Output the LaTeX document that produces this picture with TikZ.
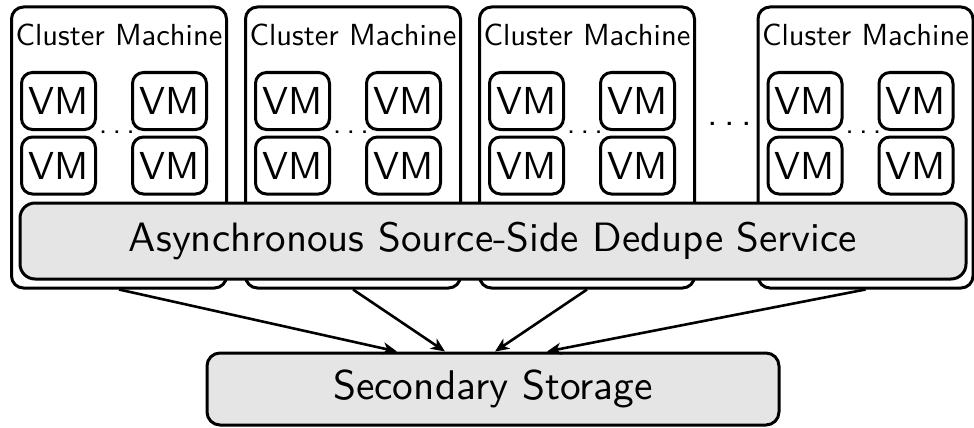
\documentclass[tikz,border=0pt]{standalone}
\usepackage{fontspec}
\usetikzlibrary{arrows.meta,calc}
% Latin Modern Sans at its 10pt design size, scaled up
\newfontfamily\lmsansten{lmsans10-regular}[Extension=.otf]
% three spaced dots
\newcommand{\spaceddots}{.\kern.166em.\kern.166em.}
\begin{document}
\begin{tikzpicture}[x=1pt,y=-1pt,line width=3pt,
  machine/.style={draw,rounded corners=12pt,fill=white,minimum width=215pt,minimum height=281pt,inner sep=0pt},
  machinelabel/.style={anchor=base,inner sep=0pt,font=\fontsize{30.5}{31}\selectfont\lmsansten},
  vm/.style={draw,rounded corners=11pt,fill=white,minimum width=74pt,minimum height=57pt,inner sep=0pt,font=\fontsize{39}{40}\selectfont\lmsansten},
  vmdots/.style={anchor=base,inner sep=0pt,font=\fontsize{31}{32}\selectfont\lmsansten},
  service/.style={draw,rounded corners=15pt,fill=black!10,minimum width=946pt,minimum height=76pt,inner sep=0pt,font=\fontsize{41}{42}\selectfont\lmsansten},
  storage/.style={draw,rounded corners=13pt,fill=black!10,minimum width=572pt,minimum height=72pt,inner sep=0pt,font=\fontsize{41.4}{42}\selectfont\lmsansten},
  flow/.style={-{Stealth[length=14pt,width=12pt,inset=4pt]},line width=2.6pt}
]
\useasboundingbox (0,0) rectangle (974,428);

% cluster machines, each with four VMs
\foreach \i/\cx in {1/119,2/353,3/587,4/865.5}{
  \node[machine] (m\i) at (\cx,147.5) {};
  \node[machinelabel] (m\i l) at (\cx,46) {Cluster Machine};
  \node[vm] (m\i a) at (\cx-60.5,101) {VM};
  \node[vm] (m\i b) at (\cx+50.5,101) {VM};
  \node[vm] (m\i c) at (\cx-60.5,165.5) {VM};
  \node[vm] (m\i d) at (\cx+50.5,165.5) {VM};
  \node[vmdots] (m\i dots) at (\cx-2,133) {\spaceddots};
}

% gap marker between the third and fourth machine
\node[anchor=base,inner sep=0pt,font=\fontsize{38}{39}\selectfont\lmsansten] (gap) at (730,125) {\spaceddots};

% shared dedupe service spanning all machines
\node[service] (svc) at (493,241) {Asynchronous Source-Side Dedupe Service};

% secondary storage
\node[storage] (st) at (493,389) {Secondary Storage};

% data flow from each machine to storage
\draw[flow] (m1.south) -- ($(st.north)+(-96,0)$);
\draw[flow] (m2.south) -- ($(st.north)+(-48,0)$);
\draw[flow] (m3.south) -- ($(st.north)+(2,0)$);
\draw[flow] (m4.south) -- ($(st.north)+(54,0)$);
\end{tikzpicture}
\end{document}
